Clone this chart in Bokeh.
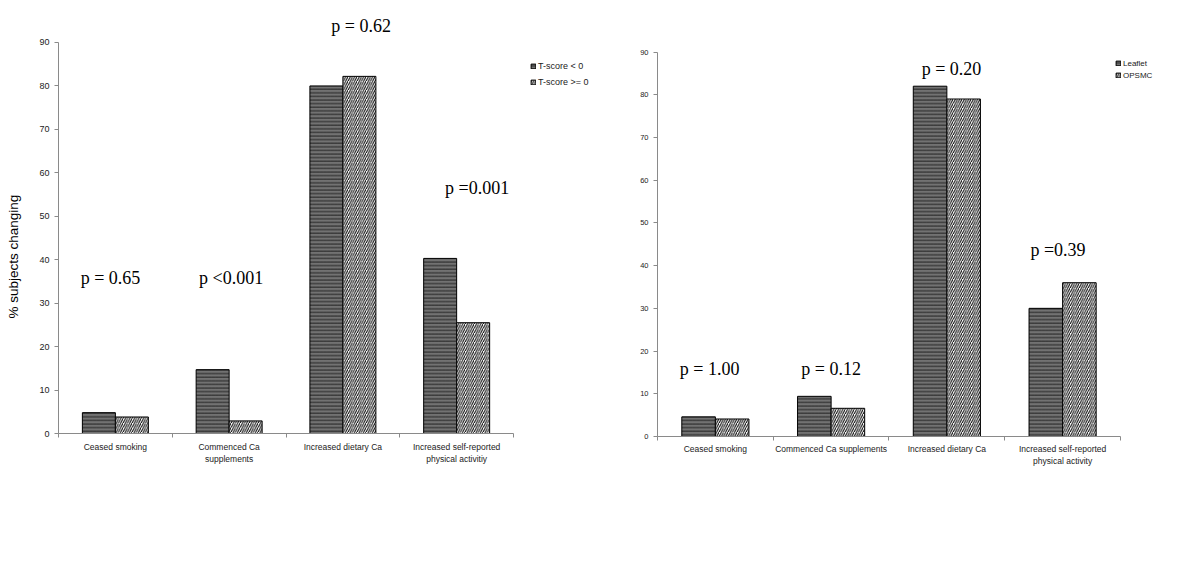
import numpy as np
from bokeh.plotting import figure
from bokeh.layouts import row
from bokeh.models import Range1d, FixedTicker, Legend, LegendItem, ColumnDataSource
from bokeh.core.properties import value
from bokeh.embed import file_html
from bokeh.resources import INLINE

# ---------------- data ----------------
categories = ["Ceased smoking", "Commenced Ca supplements",
              "Increased dietary Ca", "Increased self-reported physical activity"]
left_xlabels = ["Ceased smoking", "Commenced Ca\nsupplements",
                "Increased dietary Ca", "Increased self-reported\nphysical activitiy"]
right_xlabels = ["Ceased smoking", "Commenced Ca supplements",
                 "Increased dietary Ca", "Increased self-reported\nphysical activity"]
left_series_names = ["T-score < 0", "T-score >= 0"]
left_tscore_neg = [4.8, 14.7, 80.0, 40.3]
left_tscore_pos = [3.8, 2.9, 82.2, 25.5]
left_pvalues = ["p = 0.65", "p <0.001", "p = 0.62", "p =0.001"]
right_series_names = ["Leaflet", "OPSMC"]
right_leaflet = [4.6, 9.4, 82.0, 30.0]
right_opsmc = [4.1, 6.6, 79.0, 36.0]
right_pvalues = ["p = 1.00", "p = 0.12", "p = 0.20", "p =0.39"]
y_ticks = [0, 10, 20, 30, 40, 50, 60, 70, 80, 90]
y_label = "% subjects changing"

# ---------------- layout (positions of annotations) ----------------
left_p_x = [0.457, 1.517, 2.66, 3.68]
left_p_y = [35.9, 35.9, 93.9, 56.6]
right_p_x = [0.45, 1.50, 2.54, 3.46]
right_p_y = [15.7, 15.7, 86.0, 43.6]

BAR_W = 0.29
DARK = "#727272"
AXIS_GREY = "#8a8a8a"
N_CAT = len(categories)


def make_panel(vals_a, vals_b, names, xlabels, pvals, px, py, width, height,
               bl, br, bt, bb, x_end, y_end, tick_fs, legend_fs, legend_loc,
               legend_lh, cat_standoff):
    centers = np.arange(N_CAT) + 0.5
    p = figure(width=width, height=height, output_backend="svg",
               toolbar_location=None, x_range=Range1d(0, x_end),
               y_range=Range1d(0, y_end), min_border_left=bl,
               min_border_right=br, min_border_top=bt, min_border_bottom=bb)
    p.outline_line_color = None
    p.xgrid.grid_line_color = None
    p.ygrid.grid_line_color = None

    src_a = ColumnDataSource(dict(x=centers - BAR_W / 2, top=vals_a))
    src_b = ColumnDataSource(dict(x=centers + BAR_W / 2, top=vals_b))
    ra = p.vbar(x="x", top="top", width=BAR_W, source=src_a, fill_color=DARK,
                line_color="black", line_width=1,
                hatch_pattern="horizontal_line", hatch_color="black",
                hatch_scale=3.6, hatch_weight=0.7)
    rb = p.vbar(x="x", top="top", width=BAR_W, source=src_b, fill_color="white",
                line_color="black", line_width=1,
                hatch_pattern="right_diagonal_line", hatch_color="black",
                hatch_scale=4.5, hatch_weight=1)

    p.text(x=px, y=py, text=pvals, text_font=value("Liberation Serif"),
           text_font_size="18px", text_align="center", text_baseline="middle",
           text_color="black")

    # x axis
    xa = p.xaxis[0]
    xa.ticker = FixedTicker(ticks=list(centers), minor_ticks=list(range(N_CAT + 1)))
    xa.major_label_overrides = {float(c): lab for c, lab in zip(centers, xlabels)}
    xa.bounds = (0, N_CAT)
    xa.major_tick_out = 0
    xa.major_tick_in = 0
    xa.minor_tick_out = 4
    xa.minor_tick_in = 0
    xa.minor_tick_line_color = AXIS_GREY
    xa.axis_line_color = AXIS_GREY
    xa.major_label_text_font = "Liberation Sans"
    xa.major_label_text_font_size = "8.5px"
    xa.major_label_text_color = "#222222"
    xa.major_label_standoff = cat_standoff

    # y axis
    ya = p.yaxis[0]
    ya.ticker = FixedTicker(ticks=y_ticks)
    ya.bounds = (0, 90)
    ya.major_tick_out = 4
    ya.major_tick_in = 0
    ya.minor_tick_line_color = None
    ya.axis_line_color = AXIS_GREY
    ya.major_tick_line_color = AXIS_GREY
    ya.major_label_text_font = "Liberation Sans"
    ya.major_label_text_font_size = tick_fs
    ya.major_label_text_color = "#222222"
    ya.major_label_standoff = 5

    legend = Legend(items=[LegendItem(label=names[0], renderers=[ra]),
                           LegendItem(label=names[1], renderers=[rb])],
                    location=legend_loc, orientation="vertical")
    legend.glyph_width = 6
    legend.glyph_height = 6
    legend.label_height = legend_lh
    legend.label_standoff = 2
    legend.spacing = 0
    legend.padding = 0
    legend.margin = 0
    legend.label_text_font = "Liberation Sans"
    legend.label_text_font_size = legend_fs
    legend.label_text_color = "#222222"
    legend.background_fill_alpha = 0
    legend.border_line_alpha = 0
    legend.label_text_baseline = "middle"
    p.add_layout(legend, "center")
    return p


p1 = make_panel(left_tscore_neg, left_tscore_pos, left_series_names,
                left_xlabels, left_pvalues, left_p_x, left_p_y,
                width=596, height=473, bl=34, br=8, bt=12, bb=40,
                x_end=4.870, y_end=96.9, tick_fs="9px", legend_fs="9px",
                legend_loc=(472, 343), legend_lh=16, cat_standoff=4)

# narrow panel carrying the vertical y-axis title of the left chart
ylab = figure(width=24, height=473, output_backend="svg", toolbar_location=None,
              x_range=Range1d(0, 1), y_range=p1.y_range,
              x_axis_location=None, y_axis_location=None,
              min_border_left=0, min_border_right=0,
              min_border_top=12, min_border_bottom=40)
ylab.outline_line_color = None
ylab.xgrid.grid_line_color = None
ylab.ygrid.grid_line_color = None
ylab.text(x=[0.56], y=[40.7], text=[y_label], angle=np.pi / 2,
          text_font=value("Liberation Sans"), text_font_size="13.5px",
          text_align="center", text_baseline="middle", text_color="black")

p2 = make_panel(right_leaflet, right_opsmc, right_series_names,
                right_xlabels, right_pvalues, right_p_x, right_p_y,
                width=572, height=476, bl=37, br=2, bt=12, bb=40,
                x_end=4.605, y_end=99.25, tick_fs="7.5px", legend_fs="8px",
                legend_loc=(458, 355), legend_lh=12, cat_standoff=3)

layout = row(ylab, p1, p2)
open("out.html", "w").write(file_html(layout, INLINE))
